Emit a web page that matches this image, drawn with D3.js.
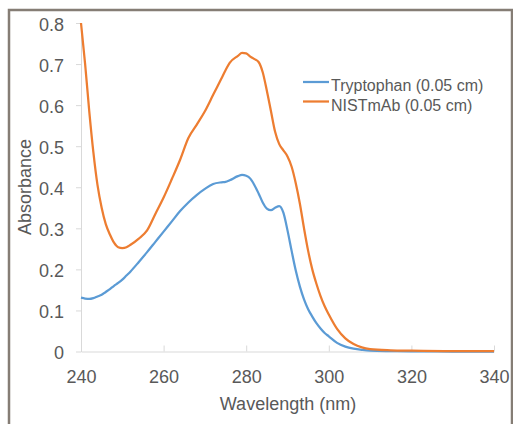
<!DOCTYPE html>
<html lang="en">

<head>
  <meta charset="UTF-8">
  <title>Absorbance spectra</title>
  <style>
    body { margin: 0; background: #fff; }
    text { font-family: "Liberation Sans", Arial, sans-serif; fill: #595959; }
  </style>
</head>

<body>
  <svg id="svg" width="513" height="424"></svg>

  <script src="https://d3js.org/d3.v7.min.js"></script>
  <script>
    // wavelength (nm) shared by both series
    const wavelengths = [240, 241, 242, 243, 244, 245, 246, 247, 248, 249, 250, 251, 252,
      254, 256, 258, 260, 262, 264, 266, 268, 270, 272, 274, 275, 276,
      278, 279, 280, 281, 282, 283, 284, 285, 286, 287, 288, 289, 290, 291, 292, 293, 294,
      295, 296, 297, 298, 299, 300, 302, 304, 306, 308, 310, 315, 320, 330, 340]

    const tryptophan = [0.131, 0.129, 0.128, 0.13, 0.134, 0.138, 0.145, 0.152, 0.16, 0.167, 0.175, 0.185, 0.195,
      0.218, 0.242, 0.267, 0.292, 0.317, 0.342, 0.363, 0.381, 0.396, 0.408, 0.412, 0.413, 0.417,
      0.427, 0.43, 0.428, 0.421, 0.405, 0.385, 0.363, 0.348, 0.344, 0.35, 0.354, 0.338, 0.295, 0.245, 0.197, 0.158, 0.127,
      0.103, 0.085, 0.069, 0.056, 0.045, 0.037, 0.021, 0.012, 0.007, 0.004, 0.002, 0.001, 0.0005, 0, 0]

    const nistmab = [0.80, 0.70, 0.585, 0.485, 0.405, 0.35, 0.31, 0.285, 0.265, 0.254, 0.252, 0.254, 0.26,
      0.275, 0.295, 0.335, 0.375, 0.42, 0.467, 0.52, 0.552, 0.585, 0.625, 0.665, 0.685, 0.703,
      0.72, 0.727, 0.726, 0.718, 0.712, 0.705, 0.68, 0.635, 0.585, 0.535, 0.505, 0.49, 0.475, 0.45, 0.41, 0.36, 0.30,
      0.245, 0.20, 0.165, 0.135, 0.11, 0.09, 0.055, 0.032, 0.018, 0.01, 0.006, 0.003, 0.002, 0.001, 0.001]

    const seriesNames = ['Tryptophan (0.05 cm)', 'NISTmAb (0.05 cm)']
    const seriesColors = ['#5b9bd5', '#ed7d31']
    const xTicks = [240, 260, 280, 300, 320, 340]
    const yTicks = [0, 0.1, 0.2, 0.3, 0.4, 0.5, 0.6, 0.7, 0.8]

    const svg = d3.select('#svg')

    // outer frame
    svg.append('rect')
      .attr('x', 9).attr('y', 10)
      .attr('width', 503).attr('height', 440)
      .attr('fill', 'none')
      .attr('stroke', '#857d75')
      .attr('stroke-width', 2.5)

    const xScale = d3.scaleLinear().domain([240, 340]).range([81, 494])
    const yScale = d3.scaleLinear().domain([0, 0.8]).range([351.5, 23])

    // y axis, ticks pointing out
    const yAxis = svg.append('g')
      .attr('transform', 'translate(81,0)')
      .call(d3.axisLeft(yScale).tickValues(yTicks).tickFormat(d => d === 0 ? '0' : d3.format('.1f')(d))
        .tickSizeInner(5).tickSizeOuter(0).tickPadding(12))
    yAxis.select('.domain').attr('stroke', '#d9d9d9')
    yAxis.selectAll('.tick line').attr('stroke', '#d9d9d9')
    yAxis.selectAll('text').attr('font-size', 18).attr('dy', '0.4em')

    // x axis, ticks pointing up into the plot
    const xAxis = svg.append('g')
      .attr('transform', 'translate(0,351.5)')
      .call(d3.axisBottom(xScale).tickValues(xTicks)
        .tickSizeInner(-6).tickSizeOuter(0).tickPadding(19))
    xAxis.select('.domain').attr('stroke', '#d9d9d9')
    xAxis.selectAll('.tick line').attr('stroke', '#d9d9d9')
    xAxis.selectAll('text').attr('font-size', 18)
    svg.selectAll('.tick text').attr('fill', '#595959').attr('font-family', '"Liberation Sans", Arial, sans-serif')

    // axis titles
    svg.append('text')
      .attr('x', 288).attr('y', 410)
      .attr('text-anchor', 'middle')
      .attr('font-size', 18)
      .text('Wavelength (nm)')

    svg.append('text')
      .attr('transform', 'translate(31,187) rotate(-90)')
      .attr('text-anchor', 'middle')
      .attr('font-size', 18)
      .text('Absorbance')

    // lines
    const line = d3.line()
      .x(d => xScale(d[0]))
      .y(d => yScale(d[1]))
      .curve(d3.curveMonotoneX)

    const allSeries = [tryptophan, nistmab]
    allSeries.forEach((vals, i) => {
      svg.append('path')
        .datum(wavelengths.map((w, j) => [w, vals[j]]))
        .attr('fill', 'none')
        .attr('stroke', seriesColors[i])
        .attr('stroke-width', 2.25)
        .attr('stroke-linejoin', 'round')
        .attr('d', line)
    })

    // legend
    const legend = svg.append('g')
    seriesNames.forEach((name, i) => {
      const y = 82 + i * 19.5
      legend.append('line')
        .attr('x1', 303).attr('x2', 329)
        .attr('y1', y).attr('y2', y)
        .attr('stroke', seriesColors[i])
        .attr('stroke-width', 2.25)
      legend.append('text')
        .attr('x', 331).attr('y', y + 9)
        .attr('font-size', 16)
        .text(name)
    })
  </script>
</body>

</html>
